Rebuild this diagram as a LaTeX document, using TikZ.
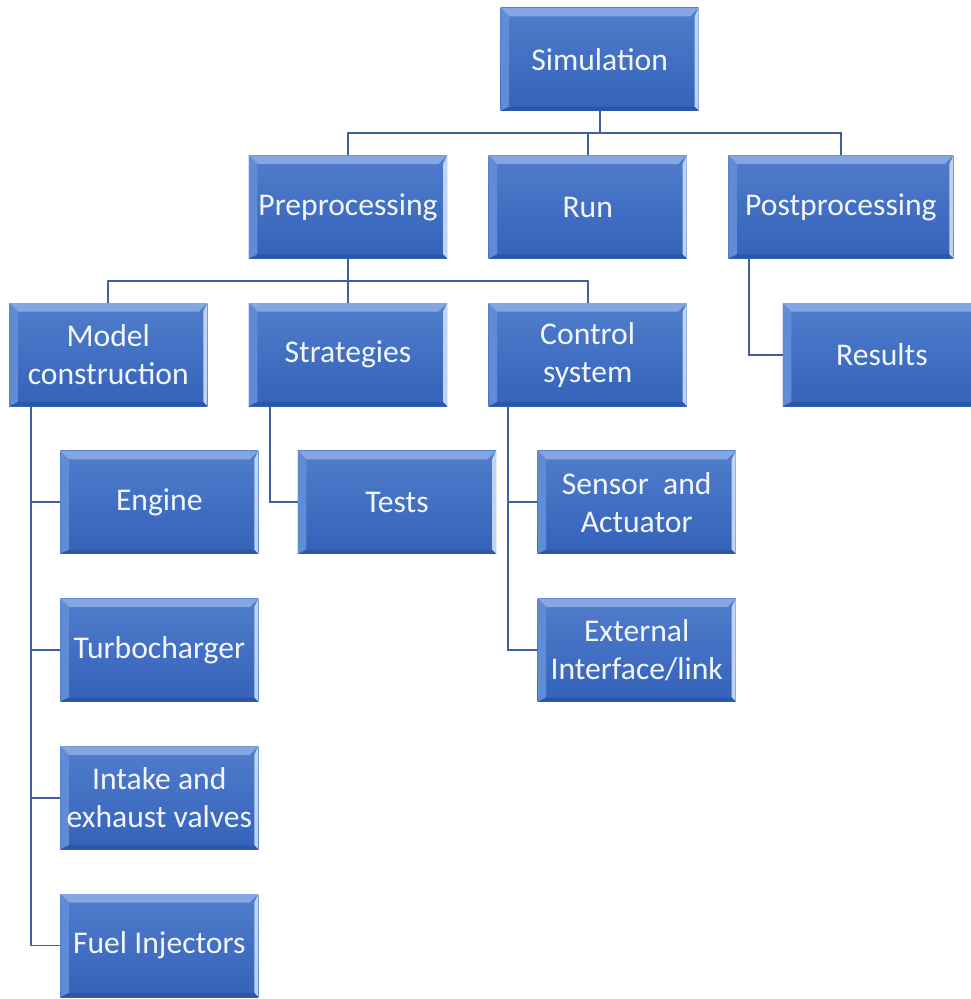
\documentclass[tikz,border=0pt]{standalone}
\usepackage{fontspec}
\setmainfont{Carlito}
\usetikzlibrary{positioning,calc}
\definecolor{SimTop}{RGB}{80,125,203}
\definecolor{SimBottom}{RGB}{52,98,186}
\definecolor{SimBevTop}{RGB}{132,167,226}
\definecolor{SimBevLeft}{RGB}{96,139,213}
\definecolor{SimBevRight}{RGB}{190,212,242}
\definecolor{SimBevBottom}{RGB}{44,86,168}
\definecolor{SimLink}{RGB}{62,95,165}
\definecolor{SimText}{RGB}{242,246,252}
\newcommand{\bevw}{0.17cm}
\tikzset{
  sim box/.style={
    top color=SimTop,
    bottom color=SimBottom,
    draw=none,
    minimum width=3.96cm,
    minimum height=2.06cm,
    inner sep=0pt,
    align=center,
    text=SimText,
    font=\fontsize{18}{21.6}\selectfont,
    path picture={
      \coordinate (nw) at (path picture bounding box.north west);
      \coordinate (ne) at (path picture bounding box.north east);
      \coordinate (sw) at (path picture bounding box.south west);
      \coordinate (se) at (path picture bounding box.south east);
      \fill[SimBevTop] (nw) -- (ne) -- ([shift={(-\bevw,-\bevw)}]ne) -- ([shift={(\bevw,-\bevw)}]nw) -- cycle;
      \fill[SimBevLeft] (nw) -- ([shift={(\bevw,-\bevw)}]nw) -- ([shift={(\bevw,0.08cm)}]sw) -- (sw) -- cycle;
      \fill[SimBevRight] (ne) -- ([shift={(-0.08cm,-\bevw)}]ne) -- ([shift={(-0.08cm,0.08cm)}]se) -- (se) -- cycle;
      \fill[SimBevBottom] (sw) -- ([shift={(\bevw,0.08cm)}]sw) -- ([shift={(-0.08cm,0.08cm)}]se) -- (se) -- cycle;
    }
  },
  sim link/.style={draw=SimLink, line width=1.1pt}
}
\begin{document}
\begin{tikzpicture}[node distance=0.88cm and 0.82cm]
\useasboundingbox (-6.96,4.14) rectangle (12.44,-15.84);
% second level
\node[sim box] (pre) at (0,0) {Preprocessing};
\node[sim box, right=of pre] (run) {Run};
\node[sim box, right=of run, minimum width=4.5cm] (post) {Postprocessing};
\node[sim box, above=of run, xshift=0.24cm] (sim) {Simulation};
% third level
\node[sim box, below=of pre] (strat) {Strategies};
\node[sim box, left=of strat] (model) {Model\\construction};
\node[sim box, right=of strat] (ctrl) {Control\\system};
\node[sim box, below=of post, xshift=0.82cm] (res) {Results};
% leaves
\node[sim box, below=of model, xshift=1.02cm] (engine) {Engine};
\node[sim box, below=of engine] (turbo) {Turbocharger};
\node[sim box, below=of turbo] (valves) {Intake and\\exhaust valves};
\node[sim box, below=of valves] (fuel) {Fuel Injectors};
\node[sim box, below=of strat, xshift=0.98cm] (tests) {Tests};
\node[sim box, below=of ctrl, xshift=0.98cm] (sensor) {Sensor~ and\\Actuator};
\node[sim box, below=of sensor] (ext) {External\\Interface/link};
% connectors
\coordinate (bus1) at ($(sim.south)!0.5!(sim.south |- run.north)$);
\coordinate (bus2) at ($(pre.south)!0.5!(strat.north)$);
\draw[sim link] (sim.south) -- (bus1);
\draw[sim link] (pre.north) |- (bus1) -| (post.north);
\draw[sim link] (run.north) -- (run.north |- bus1);
\draw[sim link] (pre.south) -- (strat.north);
\draw[sim link] (model.north) |- (bus2) -| (ctrl.north);
\coordinate (mtrunk) at ([xshift=0.44cm]model.south west);
\draw[sim link] (mtrunk) |- (fuel.west);
\foreach \leaf in {engine,turbo,valves}
  \draw[sim link] (mtrunk |- \leaf.west) -- (\leaf.west);
\coordinate (strunk) at ([xshift=0.42cm]strat.south west);
\draw[sim link] (strunk) |- (tests.west);
\coordinate (ctrunk) at ([xshift=0.4cm]ctrl.south west);
\draw[sim link] (ctrunk) |- (ext.west);
\draw[sim link] (ctrunk |- sensor.west) -- (sensor.west);
\coordinate (ptrunk) at ([xshift=0.42cm]post.south west);
\draw[sim link] (ptrunk) |- (res.west);
\end{tikzpicture}
\end{document}
